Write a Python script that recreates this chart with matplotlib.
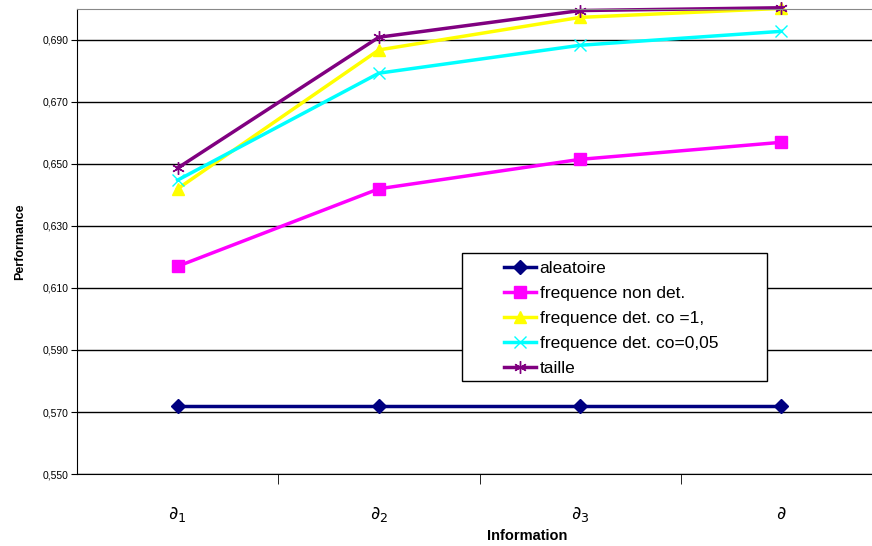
import numpy as np
import matplotlib.pyplot as plt
from matplotlib.ticker import FixedLocator
from matplotlib.patches import Rectangle

plt.rcParams['font.family'] = ['Liberation Sans', 'DejaVu Sans']

categories = [r'$\partial_1$', r'$\partial_2$', r'$\partial_3$', r'$\partial$']
aleatoire = [0.572, 0.572, 0.572, 0.572]
freq_non_det = [0.617, 0.642, 0.6515, 0.657]
freq_det_co1 = [0.642, 0.6868, 0.6973, 0.7002]
freq_det_co005 = [0.6448, 0.6793, 0.6883, 0.6928]
taille = [0.6487, 0.6909, 0.6995, 0.7004]
yticks = np.arange(0.55, 0.6901, 0.02)

fig = plt.figure(figsize=(8.72, 5.46), dpi=100)
ax = fig.add_axes([77/872, 1 - 474/546, 805/872, 465/546])

x = np.arange(len(categories))
ax.plot(x, aleatoire, color='#000080', marker='D', ms=7, lw=2.5, label='aleatoire', clip_on=False)
ax.plot(x, freq_non_det, color='#ff00ff', marker='s', ms=8, lw=2.5, label='frequence non det.', clip_on=False)
ax.plot(x, freq_det_co1, color='#ffff00', marker='^', ms=9, lw=2.5, label='frequence det. co =1,', clip_on=False)
ax.plot(x, freq_det_co005, color='#00ffff', marker='x', ms=8, mew=1, lw=2.5, label='frequence det. co=0,05', clip_on=False)
ax.plot(x, taille, color='#800080', marker=(6, 2, 0), ms=9, mew=1, lw=2.5, label='taille', clip_on=False)

ax.set_xlim(-0.5, 3.5)
ax.set_ylim(0.55, 0.70)
ax.set_yticks(yticks)
ax.set_yticklabels(['{:.3f}'.format(v).replace('.', ',') for v in yticks], fontsize=7.5)
ax.yaxis.grid(True, color='black', lw=1)
ax.set_axisbelow(True)
ax.tick_params(axis='y', length=4, color='black', pad=2)

ax.set_xticks(x)
ax.set_xticklabels(categories, fontsize=13, family='DejaVu Serif')
ax.tick_params(axis='x', which='major', length=0, pad=22)
ax.xaxis.set_minor_locator(FixedLocator([0.5, 1.5, 2.5]))
ax.tick_params(axis='x', which='minor', length=7, color='black')

ax.spines['top'].set_color('#888888')
ax.spines['right'].set_visible(False)
ax.spines['left'].set_color('black')
ax.spines['bottom'].set_color('black')

ax.set_ylabel('Performance', fontsize=9, fontweight='bold', labelpad=12)
ax.set_xlabel('Information', fontsize=10.5, fontweight='bold', labelpad=8)
ax.xaxis.set_label_coords((527 - 77) / 805, -55 / 465)

# legend box drawn separately (wide box, entries indented)
box = Rectangle(((462 - 77) / 805, (474 - 381) / 465), (767 - 462) / 805, (381 - 253) / 465,
                transform=ax.transAxes, facecolor='white', edgecolor='black', lw=1, zorder=4)
ax.add_patch(box)
leg = ax.legend(loc='upper left', bbox_to_anchor=((504 - 77) / 805, (474 - 261) / 465),
                fontsize=12.5, frameon=False, handlelength=1.85, borderpad=0, labelspacing=0.56,
                handletextpad=0.2, borderaxespad=0)
leg.set_zorder(5)

fig.savefig('out.png', dpi=100)
